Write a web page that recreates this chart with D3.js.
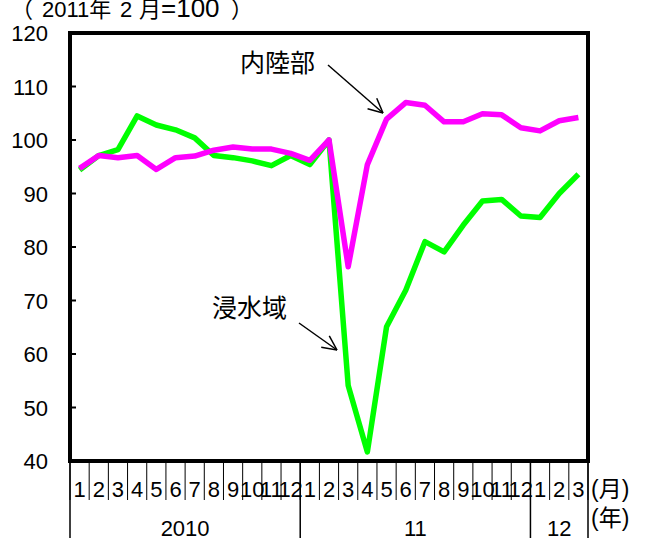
<!DOCTYPE html>
<html><head><meta charset="utf-8">
<script src="https://cdn.jsdelivr.net/npm/d3@7"></script>
<style>
html,body{margin:0;padding:0;background:#fff;}
svg text{font-family:"Liberation Sans","Noto Sans CJK JP",sans-serif;fill:#000;}
</style></head>
<body><svg id="c" width="654" height="543"></svg>
<script>
const months = ["1","2","3","4","5","6","7","8","9","10","11","12","1","2","3","4","5","6","7","8","9","10","11","12","1","2","3"];
const years = [{label:"2010", n:12},{label:"11", n:12},{label:"12", n:3}];
const flooded = [94.4,97.1,98.2,104.5,102.8,101.9,100.4,97.1,96.7,96.1,95.2,97.1,95.4,100,54.1,41.7,65.1,71.9,81.0,79.1,84.1,88.6,88.9,85.8,85.5,90.0,93.6];
const inland = [94.7,97.1,96.7,97.1,94.5,96.7,97.0,98.1,98.7,98.3,98.3,97.5,96.2,100,76.3,95.4,103.9,107.0,106.5,103.4,103.4,104.9,104.7,102.3,101.7,103.6,104.2];
const yTicks = [40,50,60,70,80,90,100,110,120];
const titleParts = ["（","2011年","2","月","=100","）"];

const svg = d3.select("#c");
const L=70,R=588,T=33,B=461;
const x = d3.scaleBand().domain(d3.range(months.length)).range([L,R]).padding(0);
const y = d3.scaleLinear().domain([40,120]).range([B,T]);
const cx = i => x(i)+x.bandwidth()/2;
const FS = 22;

// title
const titleX = [11,42,120,139,161,231];
const tt = svg.append("text").attr("y",17).attr("font-size",FS);
titleParts.forEach((p,i)=>{
  const s = tt.append("tspan").attr("x",titleX[i]).text(p);
  if(p==="=100") s.attr("font-size",26);
});

// y labels
svg.selectAll(".yl").data(yTicks).join("text")
  .attr("x",48).attr("y",d=>y(d)+8).attr("text-anchor","end").attr("font-size",FS).text(d=>d);
// y ticks inward
svg.selectAll(".yt").data(yTicks.slice(1,-1)).join("line")
  .attr("x1",L).attr("x2",L+6).attr("y1",d=>y(d)).attr("y2",d=>y(d))
  .attr("stroke","#000").attr("stroke-width",2);

// lines
const line = d3.line().x((d,i)=>cx(i)).y(d=>y(d));
svg.append("path").datum(flooded).attr("d",line).attr("fill","none")
  .attr("stroke","#00ff00").attr("stroke-width",5.5).attr("stroke-linejoin","round");
svg.append("path").datum(inland).attr("d",line).attr("fill","none")
  .attr("stroke","#ff00ff").attr("stroke-width",5.5).attr("stroke-linejoin","round");

// frame
svg.append("rect").attr("x",L).attr("y",T).attr("width",R-L).attr("height",B-T)
  .attr("fill","none").attr("stroke","#000").attr("stroke-width",4);

// month separators
const bounds = d3.range(months.length+1).map(i=> i<months.length ? x(i) : R);
svg.selectAll(".ms").data(bounds).join("line")
  .attr("x1",d=>d).attr("x2",d=>d).attr("y1",B).attr("y2",500)
  .attr("stroke","#000").attr("stroke-width",1);
svg.selectAll(".ml").data(months).join("text")
  .attr("x",(d,i)=>cx(i)).attr("y",497).attr("text-anchor","middle").attr("font-size",FS).text(d=>d);

// year separators
let acc=0; const ybounds=[L];
years.forEach(yr=>{acc+=yr.n; ybounds.push(acc<months.length?x(acc):R);});
svg.selectAll(".ys").data(ybounds).join("line")
  .attr("x1",d=>d).attr("x2",d=>d).attr("y1",B).attr("y2",538)
  .attr("stroke","#000").attr("stroke-width",1.5);
svg.selectAll(".yrl").data(years).join("text")
  .attr("x",(d,i)=>(ybounds[i]+ybounds[i+1])/2).attr("y",536).attr("text-anchor","middle")
  .attr("font-size",FS).text(d=>d.label);

svg.append("text").attr("x",591).attr("y",497).attr("font-size",23).text("(月)");
svg.append("text").attr("x",591).attr("y",526).attr("font-size",23).text("(年)");

// annotations
function arrow(x1,y1,x2,y2){
  svg.append("line").attr("x1",x1).attr("y1",y1).attr("x2",x2).attr("y2",y2).attr("stroke","#000").attr("stroke-width",1.5);
  const a=Math.atan2(y2-y1,x2-x1), len=16, sp=0.45;
  [a+Math.PI-sp,a+Math.PI+sp].forEach(t=>{
    svg.append("line").attr("x1",x2).attr("y1",y2).attr("x2",x2+len*Math.cos(t)).attr("y2",y2+len*Math.sin(t))
      .attr("stroke","#000").attr("stroke-width",1.5);
  });
}
svg.append("text").attr("x",240).attr("y",72).attr("font-size",25).text("内陸部");
arrow(328,65,383,113);
svg.append("text").attr("x",212).attr("y",317).attr("font-size",25).text("浸水域");
arrow(299,323,337,350);
</script></body></html>
